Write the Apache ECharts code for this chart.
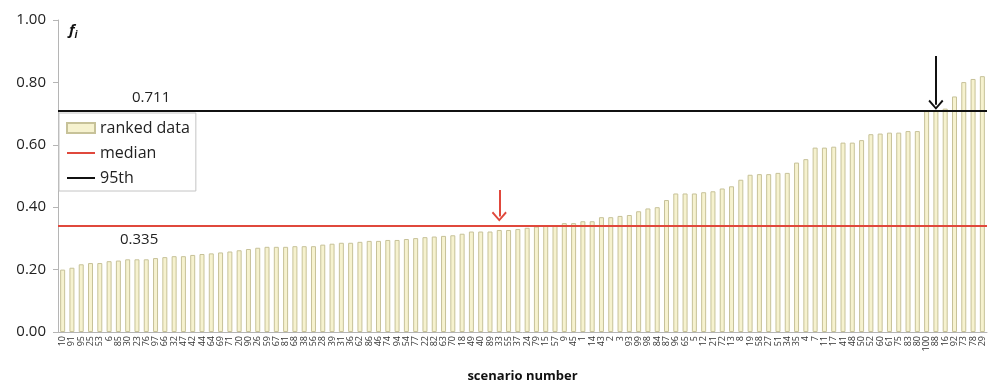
<!DOCTYPE html>
<html>
<head>
<meta charset="utf-8">
<script src="https://cdn.jsdelivr.net/npm/echarts@6/dist/echarts.min.js"></script>
<style>
  html, body { margin: 0; padding: 0; background: #fff; }
  #chart { width: 988px; height: 384px; }
</style>
</head>
<body>
<div id="chart"></div>
<script>
// scenario numbers, in ranked order
const scenarios = [
  10, 91, 95, 25, 53, 6, 85, 30, 23, 76, 97, 66, 32, 47, 42, 44, 64, 69, 71, 20, 90, 26, 59, 67, 81,
  68, 38, 56, 28, 39, 31, 36, 62, 86, 46, 74, 94, 54, 77, 22, 82, 63, 70, 18, 49, 40, 89, 33, 55, 37,
  24, 79, 15, 57, 9, 45, 1, 14, 43, 2, 3, 93, 99, 98, 84, 87, 96, 65, 5, 12, 21, 72, 13, 8, 19,
  58, 27, 51, 34, 35, 4, 7, 11, 17, 41, 48, 50, 52, 60, 61, 75, 83, 80, 100, 88, 16, 92, 73, 78, 29
]
// ranked f_i values
const ranked = [
  0.200, 0.206, 0.217, 0.221, 0.221, 0.227, 0.229, 0.233, 0.233, 0.233, 0.237, 0.240, 0.243, 0.243, 0.247,
  0.250, 0.252, 0.255, 0.258, 0.262, 0.266, 0.270, 0.273, 0.273, 0.273,
  0.275, 0.275, 0.275, 0.280, 0.283, 0.286, 0.286, 0.289, 0.292, 0.292, 0.295, 0.295, 0.298, 0.301, 0.304,
  0.306, 0.308, 0.310, 0.315, 0.322, 0.322, 0.322, 0.327, 0.327, 0.330,
  0.334, 0.338, 0.342, 0.342, 0.349, 0.349, 0.355, 0.355, 0.368, 0.368, 0.372, 0.375, 0.387, 0.396, 0.400,
  0.423, 0.444, 0.444, 0.444, 0.448, 0.451, 0.460, 0.467, 0.488,
  0.504, 0.506, 0.506, 0.510, 0.510, 0.543, 0.554, 0.591, 0.591, 0.594, 0.607, 0.607, 0.615, 0.634, 0.636,
  0.639, 0.639, 0.644, 0.644, 0.708, 0.710, 0.716, 0.755, 0.801, 0.811, 0.820
]
const yTicks = [0, 0.2, 0.4, 0.6, 0.8, 1.0]
const median = 0.335
const p95 = 0.711
// arrows: [scenario, from, to]
const medianArrow = [scenarios[47], 0.455, 0.37]
const p95Arrow = [scenarios[94], 0.885, 0.728]

const chart = echarts.init(document.getElementById('chart'))
const font = '"Open Sans", "Noto Sans", sans-serif'
const arrowHead = 'path://M0,9 L10,0 L20,9 L18.2,10.5 L10,3 L1.8,10.5 Z'
// thin horizontal bar inside a 28x10 box, for the line legend icons
const lineIcon = 'path://M0,0 L0,0 M0,4 L28,4 L28,6 L0,6 Z M28,10 L28,10'

const option = {
  animation: false,
  textStyle: { fontFamily: font },
  title: {
    text: '{f|f}{i|i}',
    left: 64,
    top: 17,
    textStyle: {
      rich: {
        f: { fontSize: 15, fontWeight: 'bold', fontStyle: 'italic', color: '#111', fontFamily: font },
        i: { fontSize: 10, fontWeight: 'bold', fontStyle: 'italic', color: '#111', fontFamily: font, padding: [8, 0, 0, 0] }
      }
    }
  },
  legend: {
    orient: 'vertical',
    left: 59,
    top: 113,
    padding: [7, 6, 5, 7],
    itemGap: 9,
    itemWidth: 28,
    itemHeight: 10,
    borderColor: '#c4c4c4',
    borderWidth: 1,
    backgroundColor: '#fff',
    textStyle: { fontSize: 16, color: '#222', fontFamily: font },
    data: [
      { name: 'ranked data', icon: 'rect' },
      { name: 'median', icon: lineIcon },
      { name: '95th', icon: lineIcon }
    ]
  },
  grid: { left: 58, right: 1, top: 20, bottom: 52, outerBoundsMode: 'none' },
  xAxis: {
    type: 'category',
    data: scenarios.map(String),
    name: 'scenario number',
    nameLocation: 'middle',
    nameGap: 38,
    nameTextStyle: { fontSize: 13, fontWeight: 'bold', color: '#111' },
    axisLine: { lineStyle: { color: '#b5b5b5' } },
    axisTick: { show: false },
    axisLabel: { interval: 0, rotate: 90, fontSize: 9, color: '#333', margin: 4 }
  },
  yAxis: {
    type: 'value',
    min: yTicks[0],
    max: yTicks[yTicks.length - 1],
    interval: 0.2,
    splitLine: { show: false },
    axisLine: { show: true, lineStyle: { color: '#b5b5b5' } },
    axisTick: { show: true, length: 5, lineStyle: { color: '#b5b5b5' } },
    axisLabel: { fontSize: 15, color: '#222', margin: 12, formatter: v => v.toFixed(2) }
  },
  series: [
    {
      name: 'ranked data',
      type: 'bar',
      data: ranked,
      barWidth: 5,
      itemStyle: { color: '#f6f2cf', borderColor: '#c7c299', borderWidth: 1 }
    },
    {
      name: 'median',
      type: 'line',
      data: [],
      symbol: 'none',
      color: '#e0483c',
      lineStyle: { color: '#e0483c', width: 2 },
      markLine: {
        silent: true,
        symbol: 'none',
        lineStyle: { color: '#e0483c', width: 2, type: 'solid' },
        data: [
          {
            yAxis: median,
            label: {
              formatter: median.toFixed(3),
              position: 'insideStartBottom',
              distance: [62, 6],
              fontSize: 15,
              color: '#222'
            }
          },
          [
            { coord: [medianArrow[0] + '', medianArrow[1]], symbol: 'none' },
            { coord: [medianArrow[0] + '', medianArrow[2]], symbol: arrowHead, symbolSize: [15, 10] }
          ]
        ]
      }
    },
    {
      name: '95th',
      type: 'line',
      data: [],
      symbol: 'none',
      color: '#111',
      lineStyle: { color: '#111', width: 2 },
      markLine: {
        silent: true,
        symbol: 'none',
        lineStyle: { color: '#111', width: 2, type: 'solid' },
        data: [
          {
            yAxis: p95,
            label: {
              formatter: p95.toFixed(3),
              position: 'insideStartTop',
              distance: [74, 5],
              fontSize: 15,
              color: '#222'
            }
          },
          [
            { coord: [p95Arrow[0] + '', p95Arrow[1]], symbol: 'none' },
            { coord: [p95Arrow[0] + '', p95Arrow[2]], symbol: arrowHead, symbolSize: [15, 10] }
          ]
        ]
      }
    }
  ]
}
chart.setOption(option)
</script>
</body>
</html>
